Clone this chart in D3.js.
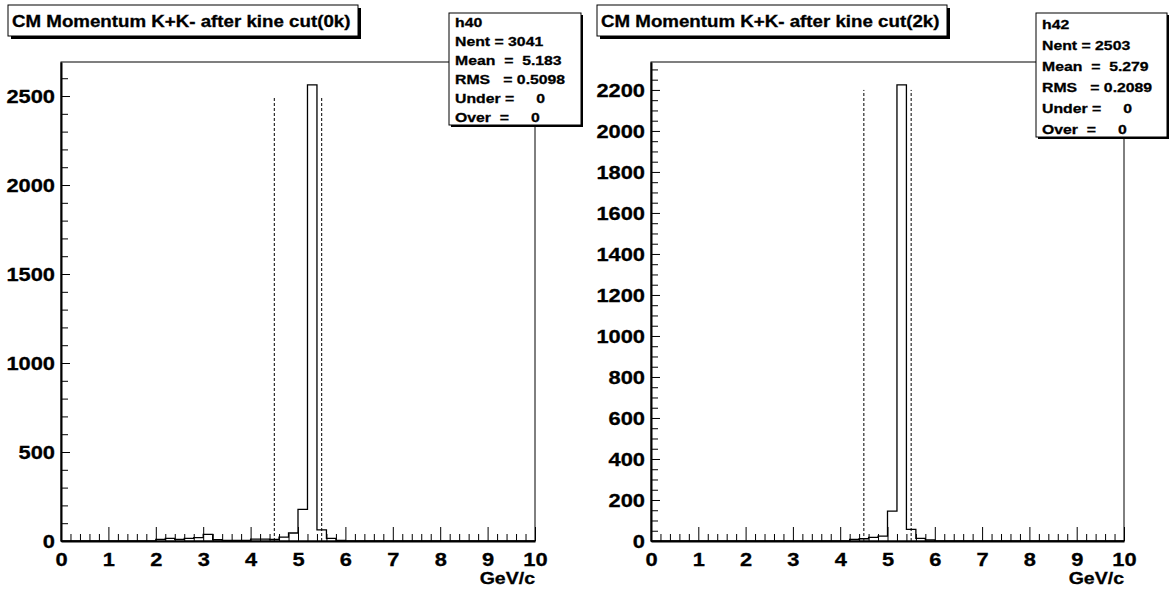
<!DOCTYPE html>
<html>
<head>
<meta charset="utf-8">
<script src="https://cdn.jsdelivr.net/npm/d3@7"></script>
<style>
body { margin: 0; background: #fff; }
text { font-family: "Liberation Sans", Arial, Helvetica, sans-serif; font-weight: bold; fill: #000; stroke: #000; stroke-width: 0.3px; }
</style>
</head>
<body>
<div id="chart"></div>
<script>
// bin lower edges, 50 bins of 0.2 GeV/c
var binLow = d3.range(50).map(function(i) { return i * 0.2; });

// h40 : CM Momentum K+K- after kine cut(0k)
var counts0k = [0, 0, 0, 0, 0, 0, 0, 0, 0, 0,
                9, 15, 9, 15, 19, 37, 7, 4, 4, 4,
                11, 11, 9, 22, 45, 178, 2563, 62, 15, 4,
                1, 0, 0, 0, 0, 0, 0, 0, 0, 0,
                0, 0, 0, 0, 0, 0, 0, 0, 0, 0];

// h42 : CM Momentum K+K- after kine cut(2k)
var counts2k = [0, 0, 0, 0, 0, 0, 0, 0, 0, 0,
                0, 0, 0, 0, 0, 0, 0, 0, 0, 0,
                0, 8, 11, 18, 24, 146, 2225, 57, 13, 5,
                0, 0, 0, 0, 0, 0, 0, 0, 0, 0,
                0, 0, 0, 0, 0, 0, 0, 0, 0, 0];

var cutValues = [4.5, 5.5];
var xMajor = d3.range(0, 11);
var yMajor0k = [0, 500, 1000, 1500, 2000, 2500];
var yMajor2k = [0, 200, 400, 600, 800, 1000, 1200, 1400, 1600, 1800, 2000, 2200];

var stats0k = ["h40", "Nent = 3041", "Mean  =  5.183", "RMS   = 0.5098", "Under =     0", "Over  =     0"];
var stats2k = ["h42", "Nent = 2503", "Mean  =  5.279", "RMS   = 0.2089", "Under =     0", "Over  =     0"];

var svgWidth = 1172;
var svgHeight = 592;
var sx = 1.15; // picture is stretched sideways

var svg = d3.select("#chart").append("svg")
  .attr("width", svgWidth)
  .attr("height", svgHeight);

function drawPanel(cfg) {
  var top = 62, bottom = 541;
  var x = d3.scaleLinear().domain([0, 10]).range([cfg.left, cfg.right]);
  var y = d3.scaleLinear().domain([0, d3.max(cfg.counts) * 1.05]).range([bottom, top]);

  var g = svg.append("g");

  // frame
  g.append("rect")
    .attr("x", cfg.left).attr("y", top)
    .attr("width", cfg.right - cfg.left).attr("height", bottom - top)
    .attr("fill", "none").attr("stroke", "#000").attr("stroke-width", 1);

  // histogram outline
  var pts = cfg.counts.map(function(c, i) { return [binLow[i], c]; });
  pts.push([10, cfg.counts[cfg.counts.length - 1]]);
  var line = d3.line()
    .x(function(d) { return x(d[0]); })
    .y(function(d) { return y(d[1]); })
    .curve(d3.curveStepAfter);
  g.append("path")
    .datum(pts)
    .attr("d", line)
    .attr("fill", "none").attr("stroke", "#000").attr("stroke-width", 1.3);

  // cut lines
  g.selectAll(".cut")
    .data(cutValues)
    .enter()
    .append("line")
    .attr("x1", function(d) { return x(d); })
    .attr("x2", function(d) { return x(d); })
    .attr("y1", y(0))
    .attr("y2", y(cfg.cutTop))
    .attr("stroke", "#000").attr("stroke-width", 1)
    .attr("stroke-dasharray", "3,2");

  // x axis minor + major
  var xMinor = d3.range(50).map(function(i) { return i * 0.2; }).filter(function(v, i) { return i % 5 != 0; });
  g.append("g")
    .attr("transform", "translate(0," + bottom + ")")
    .call(d3.axisBottom(x).tickValues(xMinor).tickSize(-7).tickFormat(""))
    .call(function(a) { a.select(".domain").remove(); });

  var xg = g.append("g")
    .attr("transform", "translate(0," + bottom + ")")
    .call(d3.axisBottom(x).tickValues(xMajor).tickSizeInner(-14).tickSizeOuter(0).tickPadding(12).tickFormat(d3.format("d")));
  xg.select(".domain").attr("stroke-width", 2);
  xg.selectAll("text")
    .attr("font-size", "19px")
    .attr("transform", "scale(" + sx + ",1)")
    .attr("x", 0);

  // y axis minor + major
  g.append("g")
    .attr("transform", "translate(" + cfg.left + ",0)")
    .call(d3.axisLeft(y).tickValues(cfg.yMinor).tickSize(-7).tickFormat(""))
    .call(function(a) { a.select(".domain").remove(); });

  var yg = g.append("g")
    .attr("transform", "translate(" + cfg.left + ",0)")
    .call(d3.axisLeft(y).tickValues(cfg.yMajor).tickSizeInner(-9).tickSizeOuter(0).tickPadding(0).tickFormat(d3.format("d")));
  yg.select(".domain").attr("stroke-width", 2);
  yg.selectAll("text")
    .attr("font-size", "19px")
    .attr("x", 0)
    .attr("transform", "translate(-6,0) scale(" + sx + ",1)");

  // axis title
  g.append("text")
    .attr("transform", "translate(" + cfg.right + ",584) scale(" + sx + ",1)")
    .attr("text-anchor", "end")
    .attr("font-size", "17px")
    .text("GeV/c");

  // title box
  var tb = g.append("g");
  tb.append("rect")
    .attr("x", cfg.titleX + 3).attr("y", 8)
    .attr("width", 350).attr("height", 31)
    .attr("fill", "#000");
  tb.append("rect")
    .attr("x", cfg.titleX).attr("y", 5)
    .attr("width", 350).attr("height", 31)
    .attr("fill", "#fff").attr("stroke", "#000").attr("stroke-width", 1);
  tb.append("text")
    .attr("transform", "translate(" + (cfg.titleX + 4) + ",27) scale(1.17,1)")
    .attr("font-size", "16px")
    .text(cfg.title);

  // stats box
  var sb = g.append("g");
  sb.append("rect")
    .attr("x", cfg.statX + 2).attr("y", 15)
    .attr("width", cfg.statW).attr("height", cfg.statH)
    .attr("fill", "#000");
  sb.append("rect")
    .attr("x", cfg.statX).attr("y", 13)
    .attr("width", cfg.statW).attr("height", cfg.statH)
    .attr("fill", "#fff").attr("stroke", "#000").attr("stroke-width", 1);
  sb.selectAll(".st")
    .data(cfg.stats)
    .enter()
    .append("text")
    .attr("transform", function(d, i) {
      return "translate(" + (cfg.statX + 6) + "," + (cfg.statY0 + i * cfg.statDy) + ") scale(1.17,1)";
    })
    .attr("font-size", "13.5px")
    .style("white-space", "pre")
    .attr("xml:space", "preserve")
    .text(function(d) { return d; });
}

drawPanel({
  left: 61, right: 535, counts: counts0k, cutTop: 2500,
  yMajor: yMajor0k, yMinor: d3.range(100, 2700, 100).filter(function(v) { return v % 500 != 0; }),
  title: "CM Momentum K+K- after kine cut(0k)", titleX: 8,
  stats: stats0k, statX: 449, statW: 132, statH: 112, statY0: 26.5, statDy: 19.1
});

drawPanel({
  left: 651, right: 1124, counts: counts2k, cutTop: 2200,
  yMajor: yMajor2k, yMinor: d3.range(50, 2350, 50).filter(function(v) { return v % 200 != 0; }),
  title: "CM Momentum K+K- after kine cut(2k)", titleX: 597,
  stats: stats2k, statX: 1036, statW: 131, statH: 124, statY0: 28.7, statDy: 21
});
</script>
</body>
</html>
